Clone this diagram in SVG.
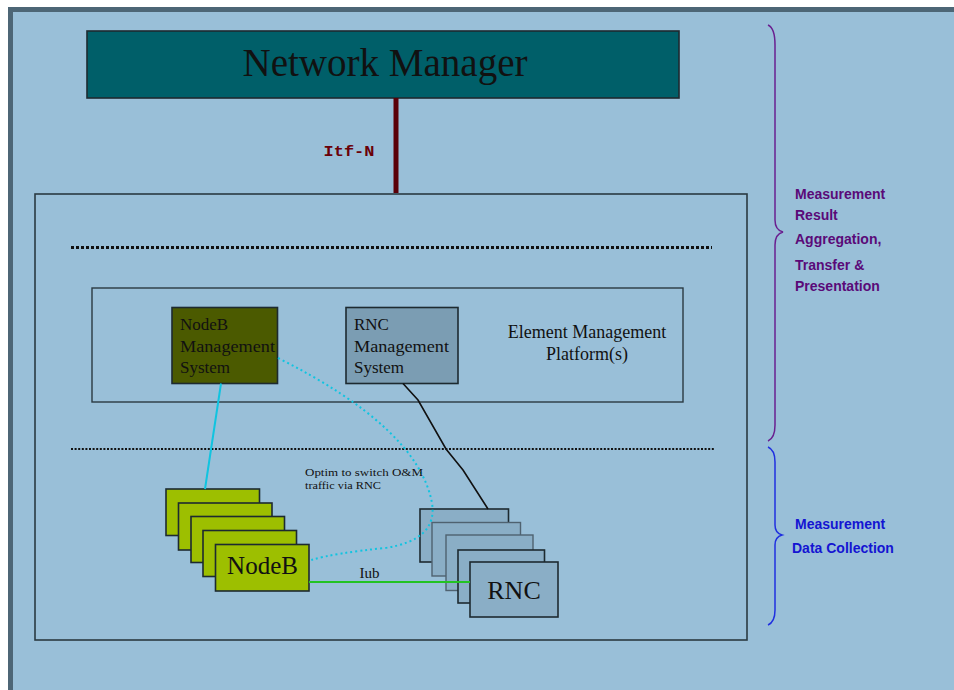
<svg xmlns="http://www.w3.org/2000/svg" width="954" height="690" viewBox="0 0 954 690">
<style>
.serif{font-family:"Liberation Serif","Times New Roman",serif;fill:#111}
.box{stroke:#1d2a30;stroke-width:1.6}
.nb{fill:#9dbf00}
.rnc{fill:#8aaec6}
.lbl{font-family:"Liberation Sans",Arial,sans-serif;font-weight:bold;font-size:14px}
</style>
<rect x="0" y="0" width="954" height="690" fill="#ffffff"/>
<rect x="10.5" y="9.5" width="960" height="700" fill="#99bfd8" stroke="#4d6676" stroke-width="5"/>

<g id="network-manager">
<rect class="box" x="87" y="31" width="592" height="67" fill="#005f69"/>
<text class="serif" x="385" y="76" font-size="41" text-anchor="middle" textLength="285" lengthAdjust="spacingAndGlyphs">Network Manager</text>
</g>

<g id="measurement-container">
<rect x="35" y="194" width="712" height="446" fill="none" stroke="#2a3a42" stroke-width="1.6"/>
<line x1="71" y1="247.5" x2="712" y2="247.5" stroke="#111" stroke-width="3" stroke-dasharray="3 2"/>
<line x1="71" y1="449" x2="714" y2="449" stroke="#111" stroke-width="2" stroke-dasharray="2 1.6"/>
</g>

<g id="element-management-platform">
<rect x="92" y="288" width="591" height="114" fill="none" stroke="#2a3a42" stroke-width="1.4"/>
<text class="serif" x="587" y="338" font-size="18" text-anchor="middle">Element Management</text>
<text class="serif" x="587" y="360" font-size="18" text-anchor="middle">Platform(s)</text>
</g>

<g id="nodeb-management-system">
<rect class="box" x="172" y="307.5" width="105.5" height="76" fill="#4b5a00"/>
<text class="serif" font-size="17" x="180" y="330">NodeB</text>
<text class="serif" font-size="17" x="180" y="352" textLength="95" lengthAdjust="spacingAndGlyphs">Management</text>
<text class="serif" font-size="17" x="180" y="373">System</text>
</g>

<g id="rnc-management-system">
<rect class="box" x="346" y="307.5" width="112" height="76" fill="#7b9db3"/>
<text class="serif" font-size="17" x="354" y="330">RNC</text>
<text class="serif" font-size="17" x="354" y="352" textLength="95" lengthAdjust="spacingAndGlyphs">Management</text>
<text class="serif" font-size="17" x="354" y="373">System</text>
</g>

<g id="nodeb-stack">
<rect class="box nb" x="166" y="489" width="93.5" height="46.5"/>
<rect class="box nb" x="178.5" y="503" width="93.5" height="47"/>
<rect class="box nb" x="191" y="516.5" width="93.5" height="46"/>
<rect class="box nb" x="203" y="530.5" width="93.5" height="46"/>
<rect class="box nb" x="215.5" y="544.5" width="93.5" height="46.5"/>
<text class="serif" x="262.5" y="574" font-size="25" text-anchor="middle">NodeB</text>
</g>

<g id="rnc-stack">
<rect class="box rnc" x="420" y="509" width="88.5" height="53"/>
<rect class="rnc" x="432" y="522.5" width="88.5" height="53.5" stroke="#4f6270" stroke-width="1.4"/>
<rect class="rnc" x="446" y="535" width="87" height="55.5" stroke="#4f6270" stroke-width="1.4"/>
<rect class="box rnc" x="458" y="550" width="86.5" height="53"/>
<rect class="box rnc" x="470" y="562" width="88" height="55"/>
<text class="serif" x="514" y="599" font-size="26" text-anchor="middle">RNC</text>
</g>

<g id="connectors">
<line x1="396" y1="98" x2="396" y2="193" stroke="#5a0008" stroke-width="5"/>
<text x="349" y="156" font-family="'Liberation Mono','Courier New',monospace" font-weight="bold" font-size="14" fill="#6a0008" text-anchor="middle" textLength="51" lengthAdjust="spacingAndGlyphs">Itf-N</text>
<line x1="221" y1="383.5" x2="205" y2="489" stroke="#10c4e0" stroke-width="2"/>
<path d="M278,358 Q418,428 432,503 Q438,540 385,548 Q335,553 311,560" fill="none" stroke="#10c4e0" stroke-width="2" stroke-dasharray="2 3"/>
<path d="M403,383.5 L418,400 L446,449 L463,470 L488,509" fill="none" stroke="#111" stroke-width="1.6"/>
<line x1="309" y1="582" x2="470" y2="582" stroke="#22c322" stroke-width="2"/>
<text class="serif" x="369.5" y="578" font-size="15" text-anchor="middle">Iub</text>
<text class="serif" x="305" y="476" font-size="10.5" textLength="118" lengthAdjust="spacingAndGlyphs">Optim to switch O&amp;M</text>
<text class="serif" x="305" y="488.5" font-size="10.5" textLength="76" lengthAdjust="spacingAndGlyphs">traffic via RNC</text>
</g>

<g id="brace-aggregation">
<path d="M768,25 Q775,28 775,45 L775,220 Q775,230 783,232 Q775,234 775,245 L775,425 Q775,438 768,441" fill="none" stroke="#6a2090" stroke-width="1.5"/>
<g class="lbl" fill="#5a0a78">
<text x="795" y="199">Measurement</text>
<text x="795" y="220">Result</text>
<text x="795" y="244">Aggregation,</text>
<text x="795" y="270">Transfer &amp;</text>
<text x="795" y="291">Presentation</text>
</g>
</g>

<g id="brace-collection">
<path d="M768,447 Q775,450 775,462 L775,525 Q775,533 782,535 Q775,537 775,545 L775,610 Q775,622 768,625" fill="none" stroke="#2030e0" stroke-width="1.5"/>
<g class="lbl" fill="#1414d2">
<text x="795" y="529">Measurement</text>
<text x="792" y="553">Data Collection</text>
</g>
</g>
</svg>
